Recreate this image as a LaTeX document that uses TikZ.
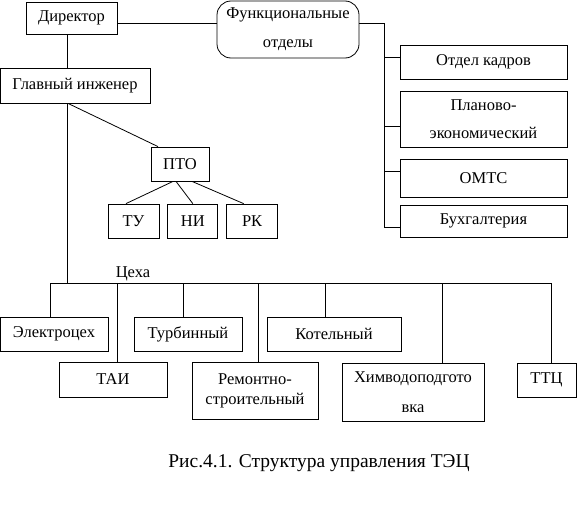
\documentclass[tikz,border=0pt]{standalone}
\usepackage{fontspec}
\setmainfont{Liberation Serif}
\usetikzlibrary{positioning}
\tikzset{
    unit/.style = {rectangle, draw, inner sep=0pt, align=center, font=\fontsize{16.5}{19}\selectfont},
    dept/.style = {unit, minimum width=167pt},
    shop/.style = {unit, minimum height=34pt}}

\begin{document}
\begin{tikzpicture}[x=1pt, y=-1pt, line width=0.8pt,
    caption/.style={font=\fontsize{19.5}{22}\selectfont}
    ]
    \useasboundingbox (0,0) rectangle (577,522);
    % top level
    \node (dir) [unit, minimum width=91pt, minimum height=32pt] at (71.5,18) {Директор};
    \node (func) [unit, rounded corners=14pt, minimum width=142pt, minimum height=57pt] at (288,29.5) {Функциональные\\[10pt]отделы};
    \node (gi) [unit, minimum width=150pt, minimum height=35pt] at (75,85.5) {Главный инженер};
    \draw ([yshift=-5pt]dir.east) -- ([yshift=-5pt]dir.east -| func.west);
    \draw ([xshift=-4.5pt]dir.south) -- ([xshift=-4.5pt]dir.south |- gi.north);
    % functional departments
    \node (kadr) [dept, minimum height=34pt] at (483.5,62) {Отдел кадров};
    \node (plan) [dept, minimum height=56pt] at (483.5,119) {Планово-\\[9pt]экономический};
    \node (omts) [dept, minimum height=38pt] at (483.5,178) {ОМТС};
    \node (buh) [dept, minimum height=32pt] at (483.5,221) {Бухгалтерия};
    \coordinate (ftop) at (384,23);
    \coordinate (fbot) at (384,227);
    \draw (func.east |- ftop) -- (ftop) -- (fbot);
    \foreach \n/\s in {kadr/5, plan/-7, omts/7, buh/-6}
        \draw ([yshift=\s pt]\n.west) -- ([yshift=\s pt]\n.west -| ftop);
    % PTO
    \node (pto) [unit, minimum width=58pt, minimum height=34pt] at (180,164) {ПТО};
    \node (tu) [unit, minimum width=51pt, minimum height=34pt] at (133.5,221) {ТУ};
    \node (ni) [unit, minimum width=50pt, minimum height=34pt, right = 8pt of tu] {НИ};
    \node (rk) [unit, minimum width=51pt, minimum height=34pt, right = 8pt of ni] {РК};
    \draw ([xshift=-7pt]gi.south) -- ([xshift=-22pt]pto.north);
    \draw ([xshift=-7pt]pto.south) -- ([xshift=-7.5pt]tu.north);
    \draw ([xshift=-4pt]pto.south) -- (ni.north);
    \draw ([xshift=12pt]pto.south) -- ([xshift=-8.5pt]rk.north);
    % shops
    \coordinate (shopL) at (50,283);
    \coordinate (shopR) at (551,283);
    \node (tsekha) at (133,274) {\fontsize{16.5}{19}\selectfont Цеха};
    \draw ([xshift=-8pt]gi.south) -- ([xshift=-8pt]gi.south |- shopL);
    \draw (shopL) -- (shopR);
    \node (elektro) [shop, minimum width=108pt] at (54,334) {Электроцех};
    \node (turb) [shop, minimum width=108pt] at (188,334) {Турбинный};
    \node (kotel) [shop, minimum width=134pt] at (334,334) {Котельный};
    \node (tai) [shop, minimum width=108pt, minimum height=35pt] at (113,379.5) {ТАИ};
    \node (remont) [unit, minimum width=126pt, minimum height=57pt] at (255,390.5) {Ремонтно-\\[1pt]строительный};
    \node (him) [unit, minimum width=142pt, minimum height=58pt] at (413,392) {Химводоподгото\\[11pt]вка};
    \node (ttc) [shop, minimum width=59pt] at (546.5,380) {ТТЦ};
    \foreach \n/\s in {elektro/-4, tai/4, turb/-5, remont/3, kotel/-9, him/29, ttc/4.5}
        \draw ([xshift=\s pt]\n.north) -- ([xshift=\s pt]\n.north |- shopL);
    % caption
    \node (cap) [caption] at (319,463) {Рис.4.1. Структура управления ТЭЦ};
\end{tikzpicture}
\end{document}
